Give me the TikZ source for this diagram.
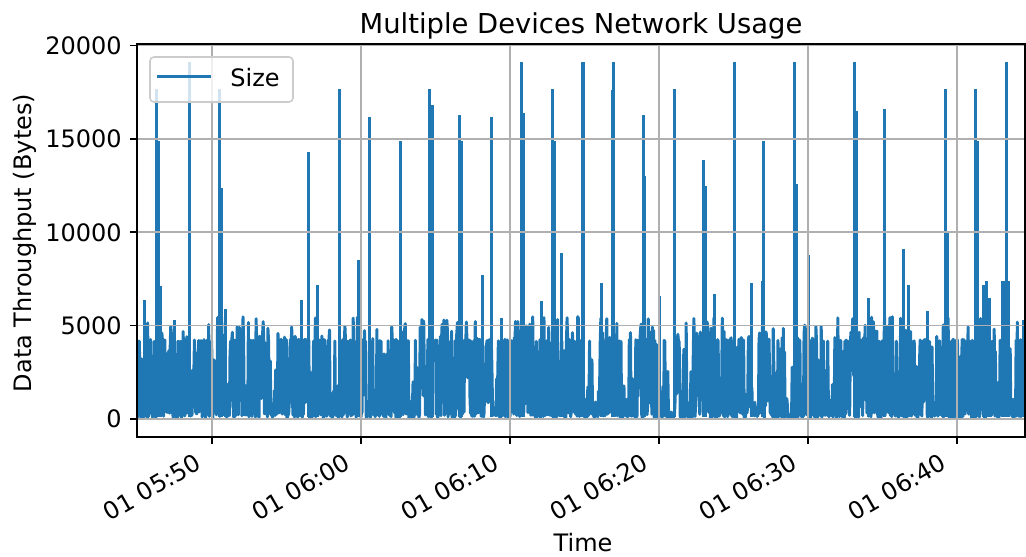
\documentclass[tikz,border=0pt]{standalone}
\usepackage{fontspec}
\setmainfont{DejaVu Sans}
\usepackage{tikz}
\usepackage{xcolor}

\definecolor{sizeblue}{HTML}{1F77B4}
\definecolor{gridgray}{HTML}{B0B0B0}
\definecolor{framegray}{HTML}{CCCCCC}

% one random reading of the throughput, in thousands of bytes
\pgfmathdeclarefunction{traffic}{0}{%
  \begingroup
  \pgfmathparse{rnd}\let\trafficpick\pgfmathresult
  \ifdim\trafficpick pt<0.46pt \pgfmathparse{0.05+0.35*rnd}%
  \else\ifdim\trafficpick pt<0.61pt \pgfmathparse{0.4+1.6*rnd}%
  \else\ifdim\trafficpick pt<0.73pt \pgfmathparse{2.0+2.1*rnd}%
  \else\ifdim\trafficpick pt<0.91pt \pgfmathparse{4.15+0.12*rnd}%
  \else \pgfmathparse{4.3+1.2*rnd}\fi\fi\fi\fi
  \pgfmathsmuggle\pgfmathresult
  \endgroup}

\begin{document}
\begin{tikzpicture}[x=0.5pt, y=0.5pt,
    sizeline/.style={draw=sizeblue, line width=1.5pt, line join=round},
    gridline/.style={draw=gridgray, line width=0.8pt},
    spine/.style={draw=black, line width=0.8pt},
    tickmark/.style={draw=black, line width=0.8pt},
    ticklabel/.style={font=\fontsize{12}{14}\selectfont, inner sep=0pt},
    keyframe/.style={draw=framegray, fill=white, fill opacity=0.8, draw opacity=1,
        rounded corners=2pt, line width=0.8pt}]
    \useasboundingbox (0,0) rectangle (1026,556);
    \pgfmathsetseed{17}

    % data
    \begin{scope}[shift={(0,137)}, y=9.3325pt]
        \clip (137,-0.964) rectangle (1025,20.075);
        \draw[sizeline] plot[domain=137:1025, samples=1500] (\x, {traffic});
        \foreach \sx/\sy in {144/6.4, 156/17.7, 158/14.9, 160/7.1, 174/5.3, 189/19.1,
                219/17.7, 221/12.4, 225/5.9, 301/6.4, 308/14.3, 317/7.2, 339/17.7,
                358/8.5, 369/16.2, 400/14.9, 429/17.7, 432/16.8, 459/16.3, 461/14.9,
                482/7.7, 491/16.2, 501/5.4, 521/19.1, 523/16.4, 541/6.3, 552/17.7,
                554/14.9, 561/8.9, 582/19.1, 583/19.1, 601/7.3, 612/17.6, 613/19.1,
                643/16.3, 644/13.0, 659/6.6, 674/17.7, 703/13.9, 705/12.5, 714/6.7,
                734/19.1, 751/7.3, 762/7.4, 763/14.9, 794/19.1, 796/12.6, 808/8.8,
                854/19.1, 856/16.5, 868/6.5, 884/16.6, 903/9.1, 908/7.2, 927/5.8,
                945/17.7, 947/10.0, 975/17.7, 977/14.9, 983/7.2, 986/7.4, 989/6.5,
                1002/7.4, 1004/7.4, 1006/19.1, 1008/7.4, 1023/5.3}
            \draw[sizeline] (\sx,0.1) -- (\sx,\sy);
    \end{scope}

    % grid
    \foreach \gx in {212,361,510,659,808,957}
        \draw[gridline] (\gx,119) -- (\gx,511.7);
    \foreach \gy in {137,230.3,323.7,417,510.3}
        \draw[gridline] (137,\gy) -- (1025,\gy);

    % axes
    \draw[spine] (137,119) rectangle (1025,511.7);
    \foreach \gx/\lab [count=\i] in {212/05:50, 361/06:00, 510/06:10, 659/06:20, 808/06:30, 957/06:40} {
        \draw[tickmark] (\gx,119) -- (\gx,112);
        \node[ticklabel, rotate=30, anchor=north east] (xtick\i) at (\gx-18,104) {01 \lab};
    }
    \foreach \gy/\lab [count=\i] in {137/0, 230.3/5000, 323.7/10000, 417/15000, 510.3/20000} {
        \draw[tickmark] (130,\gy) -- (137,\gy);
        \node[ticklabel, anchor=east] (ytick\i) at (122,\gy) {\lab};
    }

    % labels
    \node[font=\fontsize{13.7}{16}\selectfont, inner sep=0pt, anchor=base] (title) at (581,522) {Multiple Devices Network Usage};
    \node[ticklabel, anchor=base] (xlabel) at (583,5) {Time};
    \node[ticklabel, rotate=90, anchor=base] (ylabel) at (32,313) {Data Throughput (Bytes)};

    % legend
    \draw[keyframe] (150,454) rectangle (293,499);
    \coordinate (keyL) at (157,479);
    \coordinate (keyR) at (211,479);
    \draw[sizeline] (keyL) -- (keyR);
    \node[ticklabel, anchor=west] (keytext) at (230,478.5) {Size};
\end{tikzpicture}
\end{document}
